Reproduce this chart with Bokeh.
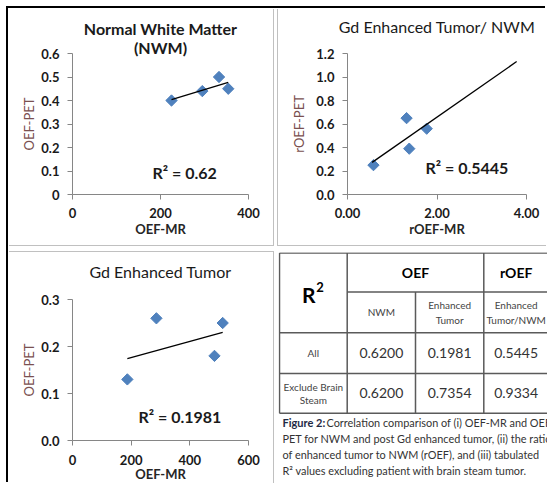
import numpy as np
from bokeh.plotting import figure
from bokeh.models import Range1d, FixedTicker, NumeralTickFormatter, Label, Title
from bokeh.layouts import row, column
from bokeh.embed import file_html
from bokeh.resources import INLINE
from bokeh.core.properties import value

# ---------------- data ----------------
nwm_mr = [225, 295, 333, 354]
nwm_pet = [0.40, 0.44, 0.50, 0.45]
nwm_r2 = "R\u00b2 = 0.62"

ratio_mr = [0.58, 1.32, 1.38, 1.77]
ratio_pet = [0.25, 0.65, 0.39, 0.56]
ratio_trend_x = [0.55, 3.78]
ratio_r2 = "R\u00b2 = 0.5445"

tumor_mr = [187, 286, 484, 512]
tumor_pet = [0.13, 0.26, 0.18, 0.25]
tumor_r2 = "R\u00b2 = 0.1981"

nwm_xticks = [0, 200, 400]
nwm_yticks = [0, 0.1, 0.2, 0.3, 0.4, 0.5, 0.6]
ratio_xticks = [0, 2, 4]
ratio_yticks = [0, 0.2, 0.4, 0.6, 0.8, 1.0, 1.2]
tumor_xticks = [0, 200, 400, 600]
tumor_yticks = [0, 0.1, 0.2, 0.3]

table_groups = ["OEF", "rOEF"]
table_cols = [["NWM"], ["Enhanced", "Tumor"], ["Enhanced", "Tumor/NWM"]]
table_rows = [["All"], ["Exclude Brain", "Steam"]]
table_vals = [["0.6200", "0.1981", "0.5445"],
              ["0.6200", "0.7354", "0.9334"]]
caption_bold = "Figure 2:"
caption_lines = ["Correlation comparison of (i) OEF-MR and OEF-",
                 "PET for NWM and post Gd enhanced tumor, (ii) the ratio",
                 "of enhanced tumor to NWM (rOEF), and (iii) tabulated",
                 "R\u00b2 values excluding patient with brain steam tumor."]

# ---------------- styling ----------------
FONT = "Lato"
AXIS_COLOR = "#868686"
MARK = "#4f81bd"
YLAB = "#7a5050"
DARK = "#1a1a1a"


def add_title(p, text, bold, size, line_height=1.2, standoff=0):
    p.add_layout(Title(text=text, align="center", standoff=standoff, text_font=FONT,
                       text_font_size=size, text_font_style="bold" if bold else "normal",
                       text_color=DARK, text_line_height=line_height), "above")


def style(p, xticks, yticks, xfmt, yfmt, ylabel, xlabel,
          y_std=8, x_std=8, ylab_std=6, xlab_std=0):
    p.frame_align = False
    p.xgrid.visible = False
    p.ygrid.visible = False
    p.outline_line_color = None
    p.background_fill_color = "white"
    p.border_fill_color = "white"
    for ax in (p.xaxis[0], p.yaxis[0]):
        ax.axis_line_color = AXIS_COLOR
        ax.major_tick_line_color = AXIS_COLOR
        ax.minor_tick_line_color = None
        ax.major_tick_out = 5
        ax.major_tick_in = 0
        ax.major_label_text_font = FONT
        ax.major_label_text_font_style = "bold"
        ax.major_label_text_font_size = "13px"
        ax.major_label_text_color = DARK
    p.xaxis[0].ticker = FixedTicker(ticks=xticks)
    p.yaxis[0].ticker = FixedTicker(ticks=yticks)
    p.xaxis[0].formatter = NumeralTickFormatter(format=xfmt)
    p.yaxis[0].formatter = NumeralTickFormatter(format=yfmt)
    p.yaxis[0].major_label_standoff = y_std
    p.xaxis[0].major_label_standoff = x_std
    p.yaxis[0].axis_label = ylabel
    p.yaxis[0].axis_label_text_font = FONT
    p.yaxis[0].axis_label_text_font_style = "normal"
    p.yaxis[0].axis_label_text_font_size = "13px"
    p.yaxis[0].axis_label_text_color = YLAB
    p.yaxis[0].axis_label_standoff = ylab_std
    p.xaxis[0].axis_label = xlabel
    p.xaxis[0].axis_label_text_font = FONT
    p.xaxis[0].axis_label_text_font_style = "bold"
    p.xaxis[0].axis_label_text_font_size = "13px"
    p.xaxis[0].axis_label_text_color = "#262626"
    p.xaxis[0].axis_label_standoff = xlab_std


def points_and_trend(p, x, y, tx=None):
    p.scatter(x, y, marker="square", angle=np.pi / 4, size=8,
              fill_color=MARK, line_color=MARK)
    slope, icpt = np.polyfit(np.array(x, float), np.array(y, float), 1)
    if tx is None:
        tx = [min(x), max(x)]
    tx = np.array(tx, float)
    p.line(tx, slope * tx + icpt, line_color="black", line_width=1.3)


def label(p, x, y, text, size, bold=False, align="center", color=DARK):
    p.add_layout(Label(x=x, y=y, x_units="screen", y_units="screen", text=text,
                       text_align=align, text_baseline="middle", text_font=FONT,
                       text_font_size=size, text_font_style="bold" if bold else "normal",
                       text_color=color))


common = dict(output_backend="svg", toolbar_location=None, title=None)

# ---------------- top-left: NWM ----------------
tl = figure(width=265, height=237, x_range=Range1d(0, 400), y_range=Range1d(0, 0.6),
            min_border_left=64, min_border_right=25, min_border_top=45, min_border_bottom=51,
            styles={"box-shadow": "1px 1px 0 0 #c0c0c0"}, **common)
style(tl, nwm_xticks, nwm_yticks, "0", "0.[0]", "OEF-PET", "OEF-MR", ylab_std=1)
add_title(tl, "(NWM)", True, "16px", standoff=-6)
add_title(tl, "Normal White Matter", True, "16px", standoff=2)
points_and_trend(tl, nwm_mr, nwm_pet)
label(tl, 80, 22, nwm_r2, "16px", bold=True, align="left")

# ---------------- top-right: ratio ----------------
tr = figure(width=269, height=237, x_range=Range1d(0, 4), y_range=Range1d(0, 1.2),
            min_border_left=69, min_border_right=21, min_border_top=45, min_border_bottom=51,
            styles={"box-shadow": "-1px 1px 0 0 #c0c0c0"}, **common)
style(tr, ratio_xticks, ratio_yticks, "0.00", "0.0", "rOEF-PET", "rOEF-MR")
add_title(tr, "Gd Enhanced Tumor/ NWM\n", False, "16px", 0.9)
points_and_trend(tr, ratio_mr, ratio_pet, ratio_trend_x)
label(tr, 78, 27, ratio_r2, "16px", bold=True, align="left")

# ---------------- bottom-left: tumor ----------------
bl = figure(width=265, height=232, x_range=Range1d(0, 600), y_range=Range1d(0, 0.3),
            min_border_left=64, min_border_right=25, min_border_top=47, min_border_bottom=43,
            styles={"box-shadow": "1px -1px 0 0 #c0c0c0"}, **common)
style(bl, tumor_xticks, tumor_yticks, "0", "0.0", "OEF-PET", "OEF-MR",
      x_std=9, ylab_std=1, xlab_std=-2)
add_title(bl, "Gd Enhanced Tumor\n", False, "16px", 1.0)
points_and_trend(bl, tumor_mr, tumor_pet)
label(bl, 66, 24, tumor_r2, "16px", bold=True, align="left")

# ---------------- table ----------------
TW, TH = 269, 232
tb = figure(width=TW, height=TH, x_range=Range1d(0, TW), y_range=Range1d(TH, 0),
            x_axis_type=None, y_axis_type=None,
            min_border_left=0, min_border_right=0, min_border_top=0, min_border_bottom=0,
            **common)
tb.frame_align = False
tb.outline_line_color = None
tb.xgrid.visible = False
tb.ygrid.visible = False

col_edges = [1, 68.7, 137, 205.3, 270]
row_edges = [0.5, 39.5, 80.3, 121, 160.7]
right_end = TW + 6

x0, y0, x1, y1 = [], [], [], []
x0 += [col_edges[0], col_edges[1]] + [col_edges[0]] * 3
x1 += [right_end] * 5
y0 += row_edges
y1 += row_edges
for c, top in [(col_edges[0], row_edges[0]), (col_edges[1], row_edges[0]),
               (col_edges[2], row_edges[1]), (col_edges[3], row_edges[0])]:
    x0.append(c); x1.append(c); y0.append(top); y1.append(row_edges[-1])
tb.segment(x0, y0, x1, y1, line_color="#5a5a5a", line_width=1.5)

cx = [(col_edges[i] + col_edges[i + 1]) / 2 for i in range(4)]
ry = [(row_edges[i] + row_edges[i + 1]) / 2 for i in range(4)]

# R^2 corner
tb.text(x=[cx[0] - 4.5], y=[ry[0] + 22], text=["R"], text_align="center", text_baseline="middle",
        text_font=value(FONT), text_font_style="bold", text_font_size="21px", text_color="black")
tb.text(x=[cx[0] + 3], y=[ry[0] + 14], text=["2"], text_align="left", text_baseline="middle",
        text_font=value(FONT), text_font_style="bold", text_font_size="13px", text_color="black")
# group headers
tb.text(x=[(col_edges[1] + col_edges[3]) / 2, cx[3]], y=[ry[0]] * 2, text=table_groups,
        text_align="center", text_baseline="middle", text_font=value(FONT),
        text_font_style="bold", text_font_size="14px", text_color="black")


def cell_lines(xc, yc, lines, gap):
    n = len(lines)
    ys = [yc + (i - (n - 1) / 2) * gap for i in range(n)]
    return [xc] * n, ys, list(lines)


sx, sy, st = [], [], []
for i, lines in enumerate(table_cols):
    a, b, c = cell_lines(cx[i + 1], ry[1], lines, 15)
    sx += a; sy += b; st += c
for i, lines in enumerate(table_rows):
    a, b, c = cell_lines(cx[0], ry[i + 2], lines, 13.5)
    sx += a; sy += b; st += c
tb.text(x=sx, y=sy, text=st, text_align="center", text_baseline="middle",
        text_font=value(FONT), text_font_size="10px", text_color="#444444")
# values
vx, vy, vt = [], [], []
for r, vals in enumerate(table_vals):
    for c, v in enumerate(vals):
        vx.append(cx[c + 1]); vy.append(ry[r + 2]); vt.append(v)
tb.text(x=vx, y=vy, text=vt, text_align="center", text_baseline="middle",
        text_font=value(FONT), text_font_size="14px", text_color="#333333")
# caption
cap_y = [170, 186, 202, 218]
tb.text(x=[4], y=[cap_y[0]], text=[caption_bold], text_baseline="middle", text_font=value(FONT),
        text_font_style="bold", text_font_size="11px", text_color="#1f2a44")
tb.text(x=[48] + [4] * 3, y=cap_y, text=caption_lines, text_baseline="middle",
        text_font=value(FONT), text_font_size="10.9px", text_color="#333333")

kids = [row(tl, tr, spacing=5), row(bl, tb, spacing=5)]
shadow = {"box-shadow": "-2px -2px 0 0 #000"}
try:
    layout = column(*kids, spacing=7, margin=(8, 0, 0, 8), styles=shadow)
except Exception:
    layout = column(*kids, spacing=7, styles=shadow)

open("out.html", "w").write(file_html(layout, INLINE))
